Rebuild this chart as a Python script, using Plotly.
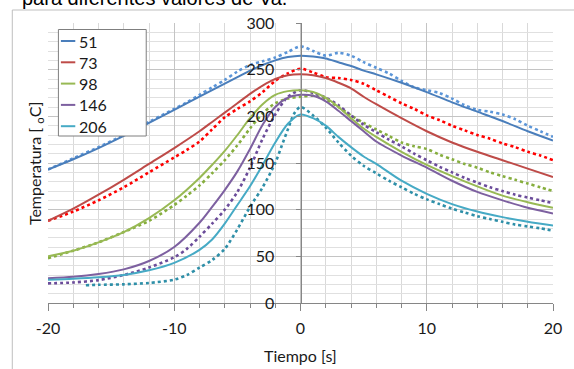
import plotly.graph_objects as go

# ---------------- data ----------------
series_names = ["51", "73", "98", "146", "206"]

t_model = [-20, -18, -16, -14, -12, -10, -8, -7, -6, -5, -4, -3, -2, -1, 0,
           1, 2, 3, 4, 5, 6, 8, 10, 12, 14, 16, 18, 20]
model_51 = [143, 154, 166, 179, 193, 207, 221, 228, 235, 242, 249, 255, 260, 263.5, 265,
            264, 262, 258, 254, 249, 245, 236, 226, 215, 205, 195, 184, 174]
model_73 = [88, 101, 116, 132, 149, 166, 184, 194, 204, 214, 224, 233, 240, 244, 245,
            244, 241, 236, 230, 221, 213, 198, 184, 172, 162, 153, 144, 135]
model_98 = [50, 56, 65, 76, 91, 110, 134, 148, 163, 180, 198, 213, 223, 227, 228,
            226, 220, 210, 198, 187, 178, 162, 148, 136, 125, 115, 108, 102]
model_146 = [26.5, 28, 31, 36, 45, 60, 86, 103, 121, 141, 165, 191, 210, 220, 223,
             222, 216, 206, 195, 184, 173, 158, 145, 131, 119, 110, 102, 96]
model_206 = [25, 26, 27.5, 30, 35, 43, 57, 68, 85, 105, 125, 148, 172, 192, 202,
             198, 190, 178, 167, 157, 149, 131, 117, 106, 98, 92, 87, 83]

t_exp = [-20, -18, -16, -14, -12, -10, -9, -8, -7, -6, -5, -4, -3, -2, -1, 0,
         1, 2, 3, 4, 5, 6, 7, 8, 9, 10, 11, 12, 13, 14, 15, 16, 17, 18, 19, 20]
exp_51 = [143, 155, 167, 180, 194, 208, 215, 223, 231, 239, 248, 255, 259, 263, 269, 275,
          270, 265, 268, 265, 258, 252, 246, 238, 231, 228, 225, 219, 212, 207, 205, 202, 197, 190, 184, 178]
exp_73 = [88, 98, 110, 124, 140, 156, 164, 173, 186, 199, 208, 216, 226, 238, 246, 251,
          247, 242, 241, 239, 235, 228, 221, 214, 208, 201, 196, 190, 185, 180, 176, 171, 167, 162, 158, 153]
exp_98 = [48, 56, 65, 76, 88, 105, 115, 126, 139, 153, 169, 187, 203, 214, 219, 221,
          222, 218, 210, 201, 193, 186, 179, 172, 168, 165, 159, 154, 149, 145, 140, 136, 132, 128, 124, 120]
exp_146 = [21, 22, 24.5, 30, 38, 49, 58, 71, 85, 100, 119, 145, 176, 202, 221, 228,
           225, 220, 212, 201, 191, 183, 175, 168, 160, 153, 146, 140, 134, 129, 124, 120, 116, 113, 110, 107]
t_exp_206 = [-17, -16, -14, -12, -10, -9, -8, -7, -6, -5, -4, -3, -2, -1.5, -1, -0.5, 0,
             1, 2, 3, 4, 5, 6, 7, 8, 9, 10, 11, 12, 13, 14, 15, 16, 17, 18, 19, 20]
exp_206 = [19, 19.5, 20, 21.5, 25, 30, 38, 46, 58, 79, 103, 124, 150, 168, 186, 203, 210,
           201, 188, 172, 158, 147, 139, 131, 124, 117, 111, 106, 101, 97, 93, 90, 87, 84, 82, 80, 77.5]

x_ticks = [-20, -10, 0, 10, 20]
x_tick_labels = ["-20", "-10", "0", "10", "20"]
y_ticks = [0, 50, 100, 150, 200, 250, 300]
y_tick_labels = ["0", "50", "100", "150", "200", "250", "300"]

title_text = "para diferentes valores de Va."
x_title = "Tiempo [s]"
y_title = "Temperatura [ <sub>o</sub>C]"

# ---------------- styles ----------------
model_colors = ["#4A7EBB", "#BE4B48", "#98B954", "#7D60A0", "#46AAC5"]
exp_colors = ["#5B95D8", "#FF0000", "#86AE3E", "#6B4C9A", "#2E8FA8"]
FONT = "Lato, 'Open Sans', sans-serif"
TXT = "#1a1a1a"

W, H = 574, 369
L, R, T, B = 48, 557, 23, 303


def px(xp):
    return (xp - L) / (R - L)


def py(yp):
    return (B - yp) / (B - T)


fig = go.Figure()

models = [model_51, model_73, model_98, model_146, model_206]
exps = [(t_exp, exp_51), (t_exp, exp_73), (t_exp, exp_98), (t_exp, exp_146), (t_exp_206, exp_206)]

for i, name in enumerate(series_names):
    ex_t, ex_v = exps[i]
    fig.add_trace(go.Scatter(x=ex_t, y=ex_v, mode="lines", name=name + " exp",
                             line=dict(color=exp_colors[i], width=2.6, dash="dot", shape="spline", smoothing=0.8),
                             showlegend=False, hoverinfo="skip"))
for i, name in enumerate(series_names):
    fig.add_trace(go.Scatter(x=t_model, y=models[i], mode="lines", name=name,
                             line=dict(color=model_colors[i], width=2, shape="spline", smoothing=0.8),
                             showlegend=False))

fig.update_layout(
    width=W, height=H,
    margin=dict(l=L, r=W - R, t=T, b=H - B, pad=0),
    paper_bgcolor="white", plot_bgcolor="white",
    font=dict(family=FONT, size=16, color=TXT),
    showlegend=False,
    xaxis=dict(range=[-20, 20], domain=[0, 1], tickvals=x_ticks, ticktext=x_tick_labels,
               ticks="outside", ticklen=7,
               tickcolor="#868686", showline=True, linecolor="#868686", linewidth=1,
               showgrid=True, gridcolor="#C4C4C4", gridwidth=1, zeroline=False,
               ticklabelstandoff=4, tickfont=dict(size=16, family=FONT, color=TXT),
               minor=dict(dtick=2, ticks="outside", ticklen=4, tickcolor="#868686",
                          showgrid=True, gridcolor="#D9D9D9", gridwidth=1)),
    yaxis=dict(range=[0, 300], anchor="free", position=0.5, tickvals=y_ticks, ticktext=y_tick_labels,
               ticks="outside", ticklen=5, tickcolor="#868686",
               showline=True, linecolor="#868686", linewidth=1,
               showgrid=True, gridcolor="#C4C4C4", gridwidth=1, zeroline=False,
               ticklabelstandoff=18, tickfont=dict(size=16, family=FONT, color=TXT),
               minor=dict(dtick=10, showgrid=True, gridcolor="#E0E0E0", gridwidth=1)),
)

shapes = []
# outer chart frame
shapes.append(dict(type="rect", xref="paper", yref="paper", x0=px(12), x1=px(620), y0=py(420), y1=py(10),
                   line=dict(color="#BFBFBF", width=1), fillcolor="rgba(0,0,0,0)", layer="below"))
# legend box
shapes.append(dict(type="rect", xref="paper", yref="paper", x0=px(58.5), x1=px(147), y0=py(136), y1=py(29.5),
                   line=dict(color="#7F7F7F", width=1), fillcolor="white", layer="above"))
annotations = []
rows = [41, 62.3, 83.6, 104.9, 126.2]
for i, name in enumerate(series_names):
    shapes.append(dict(type="line", xref="paper", yref="paper", x0=px(61), x1=px(75.5), y0=py(rows[i]), y1=py(rows[i]),
                       line=dict(color=model_colors[i], width=2), layer="above"))
    annotations.append(dict(xref="paper", yref="paper", x=px(77), y=py(rows[i]), xanchor="left", yanchor="middle",
                            text=name, showarrow=False, font=dict(size=16, family=FONT, color=TXT)))

annotations.append(dict(xref="paper", yref="paper", x=px(302.5), y=py(355), xanchor="center", yanchor="middle",
                        text=x_title, showarrow=False, font=dict(size=16, family=FONT, color=TXT)))
annotations.append(dict(xref="paper", yref="paper", x=px(35), y=py(164), xanchor="center", yanchor="middle",
                        text=y_title, textangle=-90, showarrow=False, font=dict(size=16, family=FONT, color=TXT)))
annotations.append(dict(xref="paper", yref="paper", x=px(20), y=py(-2), xanchor="left", yanchor="middle",
                        text=title_text, showarrow=False,
                        font=dict(size=20, family="Liberation Sans, Arial, sans-serif", color="#000000")))

fig.update_layout(shapes=shapes, annotations=annotations)
fig.write_html("out.html", config={"displayModeBar": False},
               post_script="document.body.style.margin='0';document.body.style.padding='0';"
                           "document.body.style.overflow='hidden';")
